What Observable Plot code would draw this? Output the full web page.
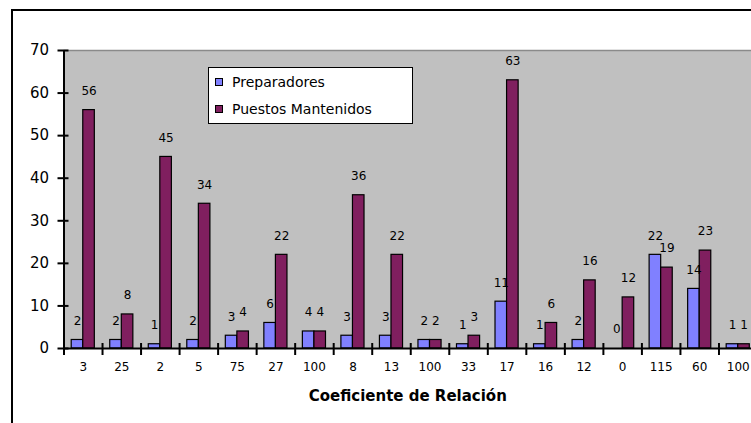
<!DOCTYPE html>
<html>
<head>
<meta charset="utf-8">
<script src="https://cdn.jsdelivr.net/npm/d3@7"></script>
<script src="https://cdn.jsdelivr.net/npm/@observablehq/plot@0.6"></script>
<style>
  html, body { margin: 0; padding: 0; background: #fff; overflow: hidden; }
  #wrap { position: relative; width: 751px; height: 423px; }
  #border { position: absolute; left: 11px; top: 9px; right: -10px; bottom: -10px;
            border-left: 2px solid #000; border-top: 2px solid #000; pointer-events: none; }
  #legend { position: absolute; left: 208px; top: 67px; width: 203px; height: 55px;
            background: #fff; border: 1.5px solid #000; font-family: "DejaVu Sans", sans-serif;
            font-size: 14px; color: #000; }
  .row { position: absolute; left: 6px; display: flex; align-items: center; }
  .sw { width: 6px; height: 6px; border: 1px solid #000; margin-right: 9px; }
  svg { position: absolute; left: 0; top: 0; }
</style>
</head>
<body>
<div id="wrap"></div>
<script>
const categories = ["3", "25", "2", "5", "75", "27", "100", "8", "13", "100", "33", "17", "16", "12", "0", "115", "60", "100"];
const preparadores = [2, 2, 1, 2, 3, 6, 4, 3, 3, 2, 1, 11, 1, 2, 0, 22, 14, 1];
const puestos = [56, 8, 45, 34, 4, 22, 4, 36, 22, 2, 3, 63, 6, 16, 12, 19, 23, 1];
const seriesNames = ["Preparadores", "Puestos Mantenidos"];
const seriesColors = ["#8080ff", "#801f5f"];
const yTicks = [0, 10, 20, 30, 40, 50, 60, 70];

const prepData = preparadores.map((v, i) => ({i, v}));
const puesData = puestos.map((v, i) => ({i, v}));

const chart = Plot.plot({
  width: 751,
  height: 423,
  marginLeft: 63.5,
  marginRight: -6,
  marginTop: 50,
  marginBottom: 75,
  style: {fontFamily: "DejaVu Sans, sans-serif", background: "transparent", color: "#000"},
  x: {type: "linear", domain: [0, categories.length], label: null},
  y: {domain: [0, 70], label: null},
  marks: [
    Plot.frame({fill: "#c0c0c0", stroke: null}),
    Plot.ruleY([70], {stroke: "#8a8a8a", strokeWidth: 1.5}),
    Plot.rectY(prepData, {x1: d => d.i + 0.2, x2: d => d.i + 0.5, y: "v", fill: seriesColors[0], stroke: "#000", strokeWidth: 1.2}),
    Plot.rectY(puesData, {x1: d => d.i + 0.5, x2: d => d.i + 0.8, y: "v", fill: seriesColors[1], stroke: "#000", strokeWidth: 1.2}),
    Plot.text(prepData, {x: d => d.i + 0.35, y: "v", text: d => String(d.v), dy: -19, fontSize: 12, fill: "#000"}),
    Plot.text(puesData, {x: d => d.i + 0.65, y: "v", text: d => String(d.v), dy: -19, fontSize: 12, fill: "#000"}),
    Plot.ruleY([0], {stroke: "#000", strokeWidth: 2}),
    Plot.ruleX([0], {stroke: "#000", strokeWidth: 2}),
    Plot.axisY({ticks: yTicks, tickSize: 11, dx: 5, tickFormat: () => "", strokeWidth: 2, label: null}),
    Plot.axisY({ticks: yTicks, tickSize: 0, tickPadding: 15, fontSize: 15, label: null}),
    Plot.axisX({ticks: d3.range(categories.length + 1), tickSize: 12, dy: -5, tickFormat: () => "", strokeWidth: 2, label: null}),
    Plot.axisX({ticks: d3.range(categories.length).map(i => i + 0.5), tickSize: 0, tickPadding: 14,
                tickFormat: d => categories[Math.floor(d)], fontSize: 12, label: null}),
    Plot.text(["Coeficiente de Relación"], {frameAnchor: "bottom", dy: 52, dx: -3, fontSize: 15, fontWeight: "bold", fill: "#000"})
  ]
});

const wrap = document.getElementById("wrap");
wrap.appendChild(chart);
const border = document.createElement("div");
border.id = "border";
wrap.appendChild(border);

const legend = document.createElement("div");
legend.id = "legend";
seriesNames.forEach((name, k) => {
  const row = document.createElement("div");
  row.className = "row";
  row.style.top = (k === 0 ? 6 : 33) + "px";
  const sw = document.createElement("div");
  sw.className = "sw";
  sw.style.background = seriesColors[k];
  const t = document.createElement("span");
  t.textContent = name;
  row.appendChild(sw);
  row.appendChild(t);
  legend.appendChild(row);
});
wrap.appendChild(legend);
</script>
</body>
</html>
